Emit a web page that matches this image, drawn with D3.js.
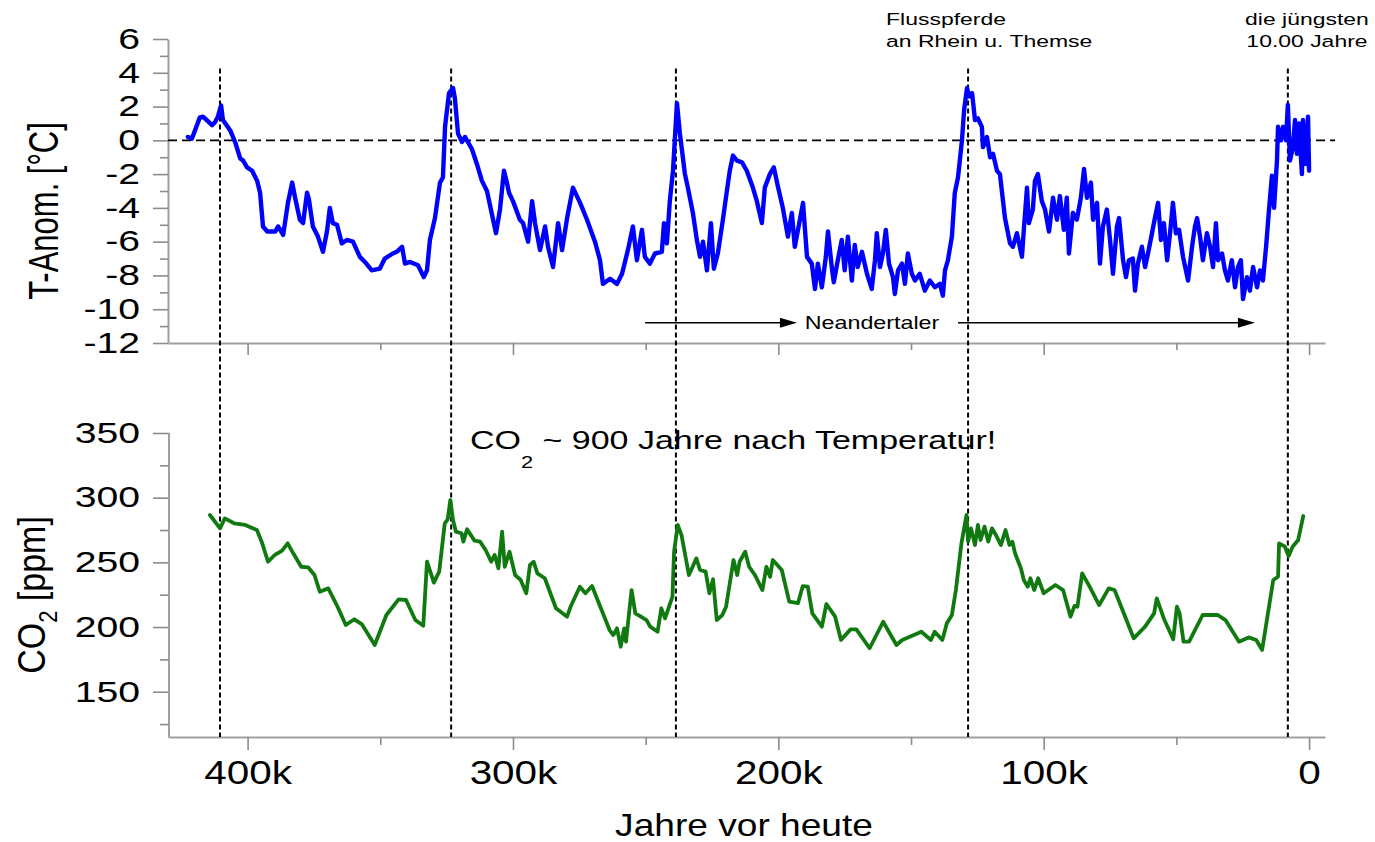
<!DOCTYPE html>
<html><head><meta charset="utf-8">
<script src="https://cdn.jsdelivr.net/npm/d3@7"></script>
<style>
body{margin:0;background:#fff;}
svg{display:block;font-family:"Liberation Sans",Arial,sans-serif;}
</style></head><body>
<svg id="c" width="1375" height="842"></svg>
<script>
// ---------- DATA (years before present in ka) ----------
const tempData = [
[422.5,0.2],[421.0,0.1],[419.8,0.6],[418.0,1.36],[416.8,1.4],[413.4,0.9],[412.3,1.07],[411.2,1.4],[410.0,2.07],[409.3,1.2],
[406.6,0.6],[404.7,-0.1],[402.8,-1.07],[401.7,-1.2],[400.2,-1.6],[398.3,-1.8],[396.4,-2.4],[395.3,-3.1],[394.2,-5.1],[392.6,-5.4],
[389.6,-5.4],[388.5,-5.1],[386.6,-5.6],[384.8,-3.7],[383.2,-2.5],[382.1,-3.4],[380.3,-4.7],[379.1,-4.9],[377.6,-3.1],[376.9,-3.5],
[375.4,-5.1],[373.5,-5.7],[371.6,-6.6],[370.1,-5.4],[369.0,-4.0],[367.9,-4.9],[366.3,-5.0],[364.5,-6.1],[362.6,-5.9],[360.3,-6.0],
[357.7,-6.9],[355.8,-7.2],[353.2,-7.7],[350.2,-7.6],[348.3,-7.0],[345.3,-6.7],[343.8,-6.6],[341.8,-6.3],[340.7,-7.3],[338.8,-7.2],
[335.8,-7.4],[333.6,-8.1],[332.4,-7.7],[331.3,-5.9],[329.4,-4.6],[327.5,-2.5],[326.4,-2.2],[325.6,0.8],[324.1,2.8],[322.6,3.1],
[321.9,2.5],[320.7,0.4],[319.2,-0.1],[318.1,0.2],[317.0,-0.1],[315.5,-0.5],[313.6,-1.4],[311.7,-2.4],[309.8,-3.0],[306.4,-5.5],
[304.9,-4.1],[303.4,-1.8],[302.3,-2.5],[301.5,-3.1],[300.0,-3.6],[297.4,-4.7],[296.2,-4.9],[294.3,-6.0],[292.8,-3.6],[291.7,-4.9],
[289.8,-6.5],[287.9,-5.1],[286.8,-6.3],[284.9,-7.5],[283.0,-4.9],[281.5,-6.5],[279.6,-4.6],[277.4,-2.8],[274.7,-3.7],[272.1,-4.7],
[269.1,-6.0],[267.2,-7.1],[266.1,-8.5],[263.4,-8.2],[260.8,-8.5],[258.9,-7.9],[256.7,-6.5],[254.8,-5.1],[253.3,-7.1],[251.4,-5.3],
[250.3,-6.9],[248.4,-7.3],[246.5,-6.7],[243.9,-6.6],[243.1,-4.9],[242.0,-6.1],[240.9,-3.6],[239.7,-1.8],[238.2,2.2],[237.1,0.4],
[235.2,-2.0],[234.1,-2.8],[232.2,-4.3],[230.7,-5.9],[229.5,-6.9],[228.4,-6.0],[226.9,-7.7],[225.4,-4.9],[224.3,-7.6],[222.8,-6.7],
[220.9,-4.7],[219.4,-3.0],[218.3,-1.8],[217.1,-0.9],[215.6,-1.2],[213.7,-1.3],[211.9,-1.8],[209.6,-2.8],[208.1,-3.6],[206.2,-4.9],
[205.1,-2.8],[203.2,-2.0],[201.7,-1.6],[200.2,-2.7],[198.3,-4.0],[196.4,-5.7],[194.9,-4.3],[193.8,-6.3],[192.6,-5.3],[190.7,-3.7],
[189.2,-6.9],[187.4,-7.3],[186.2,-8.8],[185.1,-7.3],[183.6,-8.7],[182.1,-6.9],[181.3,-5.4],[179.8,-7.6],[179.1,-8.4],[177.6,-7.1],
[176.1,-5.9],[175.0,-7.7],[173.8,-5.7],[172.3,-8.3],[171.2,-6.2],[170.1,-7.5],[168.5,-6.6],[166.6,-7.9],[164.8,-8.8],[163.6,-7.1],
[162.9,-5.5],[161.7,-7.5],[160.6,-6.7],[159.5,-5.3],[158.3,-7.3],[156.8,-8.1],[156.1,-9.1],[154.9,-7.7],[153.4,-7.3],[152.3,-8.5],
[151.2,-6.7],[149.7,-7.9],[148.5,-8.3],[146.7,-7.9],[144.8,-8.9],[142.9,-8.3],[141.0,-8.7],[139.1,-8.5],[138.0,-9.2],[137.2,-7.7],
[136.1,-7.1],[134.6,-5.7],[133.5,-3.1],[132.3,-2.2],[130.8,0.0],[130.0,1.8],[128.9,3.1],[128.1,2.6],[127.0,2.8],[125.9,1.2],
[124.8,1.3],[123.3,0.8],[122.9,-0.4],[121.4,0.2],[120.2,-1.0],[119.1,-0.8],[117.6,-1.8],[116.5,-2.0],[114.6,-4.6],[112.7,-6.1],
[111.6,-6.3],[110.1,-5.5],[108.2,-6.9],[107.4,-5.1],[106.3,-2.8],[105.6,-4.9],[104.1,-4.1],[103.3,-2.4],[102.2,-2.0],[100.7,-3.6],
[99.5,-4.1],[98.0,-5.4],[96.5,-3.4],[95.0,-4.7],[93.9,-3.3],[92.4,-5.3],[91.3,-3.4],[90.5,-6.7],[89.0,-4.3],[87.5,-4.7],
[86.0,-3.4],[84.8,-1.7],[83.7,-3.4],[82.2,-2.5],[81.4,-4.7],[79.9,-3.7],[78.8,-7.3],[77.7,-5.1],[76.2,-4.1],[75.0,-5.9],
[73.9,-7.9],[72.4,-5.1],[71.6,-4.6],[70.1,-7.1],[69.0,-8.1],[67.9,-7.1],[66.4,-7.0],[65.6,-8.9],[64.5,-7.3],[63.0,-6.3],
[61.8,-7.5],[60.7,-6.7],[59.2,-5.5],[58.1,-4.6],[56.9,-3.7],[55.8,-5.9],[54.7,-4.9],[53.5,-7.1],[52.4,-5.5],[51.3,-3.7],
[50.2,-5.5],[49.0,-5.3],[47.5,-6.9],[45.6,-8.3],[44.1,-6.3],[43.0,-5.1],[42.2,-4.6],[41.1,-5.7],[40.0,-7.1],[38.5,-5.5],
[37.3,-6.3],[36.2,-7.5],[35.1,-4.9],[34.3,-7.1],[32.8,-6.7],[31.7,-7.7],[30.6,-8.3],[29.1,-7.1],[27.9,-8.7],[26.8,-7.5],
[25.7,-7.1],[24.9,-9.4],[23.4,-8.1],[22.3,-8.9],[21.1,-7.5],[19.6,-8.7],[18.5,-7.7],[17.4,-8.3],[16.2,-6.3],[15.1,-4.1],
[14.0,-2.1],[13.2,-4.0],[12.1,-1.2],[11.7,0.8],[10.6,0.0],[9.8,0.8],[8.7,0.0],[8.0,2.1],[7.2,-1.2],[6.1,-0.4],
[5.3,1.2],[4.6,-0.8],[3.8,1.0],[2.7,-2.0],[2.3,1.2],[1.2,-1.4],[0.4,1.4],[0.0,-1.8]
];
const co2Data = [
[414.2,286.6],[410.4,276.3],[408.6,284.0],[405.1,280.2],[400.9,278.9],[396.5,275.0],[394.7,266.0],[392.3,250.5],[389.8,255.7],[387.0,259.0],
[384.9,264.7],[382.8,257.0],[379.8,246.6],[377.2,246.2],[374.8,240.2],[372.8,227.3],[369.6,229.9],[366.1,215.7],[363.0,201.6],[359.8,206.0],
[357.0,202.3],[352.1,186.1],[347.7,209.3],[343.1,221.4],[340.3,220.9],[336.8,205.4],[333.8,201.0],[332.4,250.5],[329.8,234.3],[327.8,242.8],
[325.7,280.2],[324.6,283.3],[323.6,298.2],[322.6,282.7],[321.5,273.7],[319.4,272.5],[318.7,266.0],[317.3,275.6],[314.5,266.8],[312.4,266.0],
[310.3,259.6],[308.2,250.5],[306.9,255.7],[305.5,245.4],[304.1,273.7],[303.1,246.6],[301.3,258.2],[299.2,240.2],[297.1,236.4],[295.0,226.1],
[293.6,248.0],[292.2,250.5],[290.8,241.5],[288.0,237.7],[283.8,214.5],[279.6,208.0],[278.3,215.7],[274.8,231.2],[272.7,226.1],[270.2,231.7],
[267.1,215.7],[263.6,197.7],[262.2,193.8],[260.8,199.0],[259.4,184.8],[258.1,199.0],[257.4,188.7],[256.2,211.9],[255.3,228.6],[253.9,210.6],
[251.8,208.0],[249.7,205.4],[248.3,200.3],[245.5,196.4],[244.1,214.5],[242.7,206.7],[239.9,223.5],[239.3,258.2],[237.9,278.9],[236.5,271.1],
[235.1,255.7],[233.7,240.2],[232.3,246.6],[230.9,253.1],[229.5,244.1],[227.4,242.8],[226.0,226.1],[224.6,236.9],[223.2,205.4],[221.1,209.3],
[219.7,215.7],[216.9,251.8],[215.5,240.2],[214.6,250.5],[212.5,258.2],[211.0,246.6],[208.8,240.2],[206.0,228.6],[204.5,246.6],[203.1,238.9],
[202.1,251.8],[198.7,244.1],[195.9,219.6],[192.6,218.4],[190.8,231.7],[188.9,231.2],[187.2,210.6],[183.6,200.3],[181.9,217.8],[178.6,208.0],
[176.4,190.0],[172.8,198.2],[170.6,198.2],[165.6,183.6],[160.5,204.1],[155.5,186.1],[153.3,190.0],[146.1,196.4],[142.5,190.0],[141.1,196.4],
[138.2,190.0],[136.5,202.9],[134.6,209.3],[133.1,228.6],[131.0,264.7],[129.1,286.6],[128.5,266.0],[127.4,276.3],[125.9,263.4],[124.8,278.9],
[123.8,267.3],[122.3,277.6],[120.9,266.0],[119.5,276.3],[118.0,271.1],[116.1,263.4],[114.4,275.0],[112.9,263.4],[111.8,266.0],[110.8,257.0],
[108.6,245.4],[107.5,236.4],[106.0,231.2],[105.0,237.7],[103.6,228.6],[102.1,237.7],[100.0,226.1],[95.6,232.5],[92.7,228.6],[89.9,208.0],
[88.4,216.3],[87.3,215.7],[85.5,241.5],[82.7,231.2],[79.1,217.0],[75.5,229.9],[73.3,228.6],[66.1,191.3],[61.8,200.3],[58.4,210.6],
[57.4,222.2],[54.5,205.4],[51.2,190.5],[49.8,215.7],[48.8,210.6],[47.3,188.7],[45.2,188.7],[40.1,209.3],[34.4,209.3],[31.5,205.4],
[26.4,188.7],[22.8,192.0],[19.9,190.0],[17.7,182.3],[13.5,236.4],[11.7,238.9],[11.3,264.7],[9.1,262.1],[7.7,254.9],[6.2,262.1],
[4.1,267.3],[2.2,285.8]
];
const markerYears = [410.4, 323.3, 238.6, 128.5, 8.0];
const xTickValues = [400, 300, 200, 100, 0];
const xTickLabels = ["400k", "300k", "200k", "100k", "0"];
const xMinorTicks = [350, 250, 150, 50];
const tempTicks = [-12, -10, -8, -6, -4, -2, 0, 2, 4, 6];
const tempMinor = [-11, -9, -7, -5, -3, -1, 1, 3, 5];
const co2Ticks = [150, 200, 250, 300, 350];
const co2Minor = [125, 175, 225, 275, 325];
const neanderArrows = [[250.2, 193.0], [132.3, 20.4]];
const neanderLevel = -10.8;

// ---------- SCALES ----------
const svg = d3.select("#c");
const x = d3.scaleLinear().domain([430, -6]).range([168, 1325]);
const yT = d3.scaleLinear().domain([-12, 6]).range([343, 39]);
const yC = d3.scaleLinear().domain([115, 350]).range([737, 433]);
const FONT = '"Liberation Sans",Arial,sans-serif';
const AX = "#a0a0a0";

function styleAxis(g, keepDomain) {
  g.selectAll(".tick line").attr("stroke", "#8c8c8c").attr("stroke-width", 1.6);
  if (keepDomain) g.select(".domain").attr("stroke", AX).attr("stroke-width", 2);
  else g.select(".domain").remove();
  g.selectAll(".tick text").attr("fill", "#000").attr("font-family", FONT);
}
function stretchTicks(g, sx) {
  g.selectAll(".tick text").each(function () {
    const t = d3.select(this);
    const xx = +t.attr("x") || 0;
    t.attr("x", xx / sx).attr("transform", `scale(${sx},1)`);
  });
}

// ---------- TOP PANEL ----------
const gTy = svg.append("g").attr("transform", "translate(168,0)")
  .call(d3.axisLeft(yT).tickValues(tempTicks).tickSize(15).tickPadding(13).tickSizeOuter(0).tickFormat(d => String(d)));
styleAxis(gTy, true);
gTy.selectAll(".tick text").attr("font-size", 29);
stretchTicks(gTy, 1.35);
const gTym = svg.append("g").attr("transform", "translate(168,0)")
  .call(d3.axisLeft(yT).tickValues(tempMinor).tickSize(8).tickFormat(""));
styleAxis(gTym, false);

const gTx = svg.append("g").attr("transform", `translate(0,${yT(-12)})`)
  .call(d3.axisBottom(x).tickValues(xTickValues).tickSize(12).tickSizeOuter(0).tickFormat(""));
styleAxis(gTx, true);
const gTxm = svg.append("g").attr("transform", `translate(0,${yT(-12)})`)
  .call(d3.axisBottom(x).tickValues(xMinorTicks).tickSize(7).tickFormat(""));
styleAxis(gTxm, false);

// zero line
svg.append("line").attr("x1", x(430)).attr("x2", x(-9.8)).attr("y1", yT(0)).attr("y2", yT(0))
  .attr("stroke", "#000").attr("stroke-width", 1.6).attr("stroke-dasharray", "9,5");

// ---------- BOTTOM PANEL ----------
const gCy = svg.append("g").attr("transform", "translate(169,0)")
  .call(d3.axisLeft(yC).tickValues(co2Ticks).tickSize(16).tickPadding(13).tickSizeOuter(0).tickFormat(d => String(d)));
styleAxis(gCy, false);
gCy.selectAll(".tick text").attr("font-size", 29);
stretchTicks(gCy, 1.35);
svg.append("line").attr("x1", 169).attr("x2", 169).attr("y1", yC(350)).attr("y2", yC(115))
  .attr("stroke", AX).attr("stroke-width", 2);
const gCym = svg.append("g").attr("transform", "translate(169,0)")
  .call(d3.axisLeft(yC).tickValues(co2Minor).tickSize(9).tickFormat(""));
styleAxis(gCym, false);

const gCx = svg.append("g").attr("transform", `translate(0,${yC(115)})`)
  .call(d3.axisBottom(x).tickValues(xTickValues).tickSize(13).tickPadding(10).tickSizeOuter(0)
    .tickFormat((d, i) => xTickLabels[i]));
styleAxis(gCx, true);
gCx.selectAll(".tick text").attr("font-size", 34);
stretchTicks(gCx, 1.19);
const gCxm = svg.append("g").attr("transform", `translate(0,${yC(115)})`)
  .call(d3.axisBottom(x).tickValues(xMinorTicks).tickSize(8).tickFormat(""));
styleAxis(gCxm, false);

// ---------- DASHED MARKER LINES ----------
svg.selectAll("line.marker").data(markerYears).join("line").attr("class", "marker")
  .attr("x1", d => x(d)).attr("x2", d => x(d))
  .attr("y1", yT(4.26)).attr("y2", yC(115))
  .attr("stroke", "#000").attr("stroke-width", 2).attr("stroke-dasharray", "5,3");

// ---------- SERIES ----------
svg.append("path").datum(tempData)
  .attr("d", d3.line().x(d => x(d[0])).y(d => yT(d[1])))
  .attr("fill", "none").attr("stroke", "#0000ff").attr("stroke-width", 4.4)
  .attr("stroke-linejoin", "round").attr("stroke-linecap", "round");
svg.append("path").datum(co2Data)
  .attr("d", d3.line().x(d => x(d[0])).y(d => yC(d[1])))
  .attr("fill", "none").attr("stroke", "#107a10").attr("stroke-width", 3.8)
  .attr("stroke-linejoin", "round").attr("stroke-linecap", "round");

// ---------- NEANDERTALER ARROWS ----------
neanderArrows.forEach(([a, b]) => {
  const x1 = x(a), x2 = x(b), yy = yT(neanderLevel);
  svg.append("line").attr("x1", x1).attr("x2", x2 - 14).attr("y1", yy).attr("y2", yy)
    .attr("stroke", "#000").attr("stroke-width", 1.6);
  svg.append("path").attr("d", `M${x2},${yy} L${x2 - 17},${yy - 5} L${x2 - 17},${yy + 5} Z`).attr("fill", "#000");
});

// ---------- TEXTS ----------
function stext(txt, px, py, size, sx, anchor) {
  return svg.append("text").attr("transform", `translate(${px},${py}) scale(${sx},1)`)
    .attr("font-size", size).attr("text-anchor", anchor || "start").attr("fill", "#000").text(txt);
}
stext("Neandertaler", x(164.7), yT(neanderLevel) + 6, 17.5, 1.33, "middle");
stext("Flusspferde", x(159.4), 25, 17, 1.35);
stext("an Rhein u. Themse", x(159.4), 47, 17, 1.35);
stext("die jüngsten", x(0.8), 25, 17, 1.35, "middle");
stext("10.00 Jahre", x(0.8), 47, 17, 1.35, "middle");

// CO2 annotation
const ann = svg.append("text").attr("transform", `translate(${x(316.2)},449) scale(1.36,1)`)
  .attr("font-size", 25).attr("fill", "#000");
ann.append("tspan").text("CO");
ann.append("tspan").attr("font-size", 16).attr("dy", 19).text("2");
ann.append("tspan").attr("dy", -19).text(" ~ 900 Jahre nach Temperatur!");

// axis titles
svg.append("text").attr("transform", "translate(58,211) scale(1.35,1) rotate(-90)")
  .attr("font-size", 31).attr("text-anchor", "middle").attr("fill", "#000").text("T-Anom. [°C]");
const ct = svg.append("text").attr("transform", "translate(45,595) scale(1.15,1) rotate(-90)")
  .attr("font-size", 34).attr("text-anchor", "middle").attr("fill", "#000");
ct.append("tspan").text("CO");
ct.append("tspan").attr("font-size", 22).attr("dy", 10).text("2");
ct.append("tspan").attr("dy", -10).text(" [ppm]");

stext("Jahre vor heute", 744, 836, 32, 1.16, "middle");
</script>
</body></html>
